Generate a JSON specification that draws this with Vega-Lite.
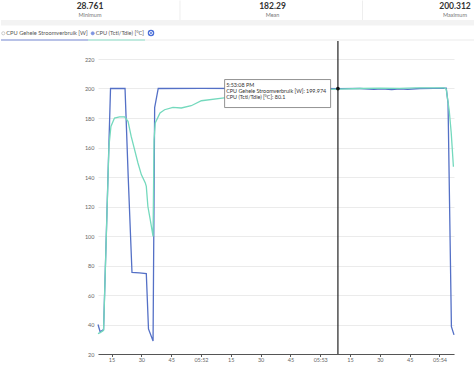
{
  "$schema": "https://vega.github.io/schema/vega-lite/v6.json",
  "padding": 0,
  "background": "white",
  "bounds": "flush",
  "spacing": 0,
  "config": {"font": "Lato", "view": {"stroke": null}},
  "vconcat": [
    {
      "width": 474,
      "height": 59,
      "resolve": {"scale": {"x": "independent"}},
      "layer": [
        {
          "data": {"values": [{"k": 1}]},
          "mark": {"type": "rect", "color": "#f3f3f3", "yOffset": -3, "y2Offset": 2.5},
          "encoding": {
            "y": {"datum": 2, "type": "quantitative", "scale": {"domain": [-0.7059, 6.2353], "reverse": true, "nice": false, "zero": false}, "axis": null},
            "y2": {"datum": 2}
          }
        },
        {
          "data": {"values": [{"k": 1}]},
          "mark": {"type": "rect", "color": "#ebebeb", "yOffset": -0.5, "y2Offset": 0.5},
          "encoding": {
            "y": {"datum": 4, "type": "quantitative", "scale": {"domain": [-0.7059, 6.2353], "reverse": true, "nice": false, "zero": false}, "axis": null},
            "y2": {"datum": 4}
          }
        },
        {
          "data": {"values": [{"col": 1}, {"col": 2}]},
          "mark": {"type": "rule", "color": "#eeeeee", "xOffset": -92.5, "yOffset": -5.5, "y2Offset": -3},
          "encoding": {
            "x": {"field": "col", "type": "ordinal", "scale": {"type": "point", "domain": [0, 1, 2], "padding": 0.2986, "align": 0.8165}, "axis": null},
            "y": {"datum": 0, "type": "quantitative", "scale": {"domain": [-0.7059, 6.2353], "reverse": true, "nice": false, "zero": false}, "axis": null},
            "y2": {"datum": 2}
          }
        },
        {
          "data": {"values": [{"col": 0, "value": "28.761", "label": "Minimum"}, {"col": 1, "value": "182.29", "label": "Mean"}, {"col": 2, "value": "200.312", "label": "Maximum"}]},
          "layer": [
            {
              "mark": {"type": "text", "fontSize": 8.5, "fontWeight": "bold", "color": "#333333", "baseline": "middle"},
              "encoding": {
                "x": {"field": "col", "type": "ordinal", "scale": {"type": "point", "domain": [0, 1, 2], "padding": 0.2986, "align": 0.8165}, "axis": null},
                "y": {"datum": 0, "type": "quantitative", "scale": {"domain": [-0.7059, 6.2353], "reverse": true, "nice": false, "zero": false}, "axis": null},
                "text": {"field": "value"}
              }
            },
            {
              "mark": {"type": "text", "fontSize": 5.5, "color": "#777777", "baseline": "middle"},
              "encoding": {
                "x": {"field": "col", "type": "ordinal", "scale": {"type": "point", "domain": [0, 1, 2], "padding": 0.2986, "align": 0.8165}, "axis": null},
                "y": {"datum": 1, "type": "quantitative", "scale": {"domain": [-0.7059, 6.2353], "reverse": true, "nice": false, "zero": false}, "axis": null},
                "text": {"field": "label"}
              }
            }
          ]
        },
        {
          "data": {"values": [{"i": 0, "item": "power", "label": "CPU Gehele Stroomverbruik [W]"}, {"i": 1, "item": "temp", "label": "CPU (Tctl/Tdie) [°C]"}]},
          "layer": [
            {
              "mark": {"type": "point", "shape": "circle", "filled": true, "size": 10, "strokeWidth": 0.7, "yOffset": 1.8},
              "encoding": {
                "x": {"field": "i", "type": "quantitative", "scale": {"domain": [-0.0257, 5.2763], "nice": false, "zero": false}, "axis": null},
                "y": {"datum": 3, "type": "quantitative", "scale": {"domain": [-0.7059, 6.2353], "reverse": true, "nice": false, "zero": false}, "axis": null},
                "fill": {"field": "item", "type": "nominal", "scale": {"domain": ["power", "temp"], "range": ["#ffffff", "#4b69d6"]}, "legend": null},
                "stroke": {"field": "item", "type": "nominal", "scale": {"domain": ["power", "temp"], "range": ["#999999", "#4b69d6"]}, "legend": null}
              }
            },
            {
              "mark": {"type": "text", "align": "left", "baseline": "middle", "dx": 3, "dy": 1.8, "fontSize": 5.7, "color": "#555555"},
              "encoding": {
                "x": {"field": "i", "type": "quantitative", "scale": {"domain": [-0.0257, 5.2763], "nice": false, "zero": false}, "axis": null},
                "y": {"datum": 3, "type": "quantitative", "scale": {"domain": [-0.7059, 6.2353], "reverse": true, "nice": false, "zero": false}, "axis": null},
                "text": {"field": "label"}
              }
            }
          ]
        },
        {
          "data": {"values": [{"i": 0}]},
          "mark": {"type": "rect", "color": "#7d8fd9", "xOffset": -2.3, "x2Offset": 84.7, "yOffset": -0.6, "y2Offset": 0.6},
          "encoding": {
            "x": {"field": "i", "type": "quantitative", "scale": {"domain": [-0.0257, 5.2763], "nice": false, "zero": false}, "axis": null},
            "x2": {"field": "i"},
            "y": {"datum": 4, "type": "quantitative", "scale": {"domain": [-0.7059, 6.2353], "reverse": true, "nice": false, "zero": false}, "axis": null},
            "y2": {"datum": 4}
          }
        },
        {
          "data": {"values": [{"i": 1}]},
          "mark": {"type": "rect", "color": "#8ddfca", "xOffset": -4.7, "x2Offset": 52.3, "yOffset": -0.6, "y2Offset": 0.6},
          "encoding": {
            "x": {"field": "i", "type": "quantitative", "scale": {"domain": [-0.0257, 5.2763], "nice": false, "zero": false}, "axis": null},
            "x2": {"field": "i"},
            "y": {"datum": 4, "type": "quantitative", "scale": {"domain": [-0.7059, 6.2353], "reverse": true, "nice": false, "zero": false}, "axis": null},
            "y2": {"datum": 4}
          }
        },
        {
          "data": {"values": [{"i": 1}]},
          "layer": [
            {
              "mark": {"type": "point", "shape": "circle", "filled": true, "size": 42, "color": "#4a6fd8", "opacity": 1, "xOffset": 58.3, "yOffset": 1.5},
              "encoding": {
                "x": {"field": "i", "type": "quantitative", "scale": {"domain": [-0.0257, 5.2763], "nice": false, "zero": false}, "axis": null},
                "y": {"datum": 3, "type": "quantitative", "scale": {"domain": [-0.7059, 6.2353], "reverse": true, "nice": false, "zero": false}, "axis": null}
              }
            },
            {
              "mark": {"type": "point", "shape": "circle", "filled": false, "size": 9, "color": "#ffffff", "strokeWidth": 0.9, "opacity": 1, "xOffset": 58.3, "yOffset": 1.5},
              "encoding": {
                "x": {"field": "i", "type": "quantitative", "scale": {"domain": [-0.0257, 5.2763], "nice": false, "zero": false}, "axis": null},
                "y": {"datum": 3, "type": "quantitative", "scale": {"domain": [-0.7059, 6.2353], "reverse": true, "nice": false, "zero": false}, "axis": null}
              }
            }
          ]
        }
      ]
    },
    {
      "spacing": 0,
      "bounds": "flush",
      "hconcat": [
        {
          "width": 96.7,
          "height": 295,
          "data": {"values": [{"k": 1}]},
          "mark": {"type": "text", "opacity": 0},
          "encoding": {"text": {"value": ""}}
        },
        {
          "width": 356,
          "height": 295,
          "layer": [
            {
              "data": {"values": [
                {"series": "power", "seconds_after_17_51": 8.2, "value": 40},
                {"series": "power", "seconds_after_17_51": 9.3, "value": 35},
                {"series": "power", "seconds_after_17_51": 11.0, "value": 36.5},
                {"series": "power", "seconds_after_17_51": 14.5, "value": 200},
                {"series": "power", "seconds_after_17_51": 21.8, "value": 200},
                {"series": "power", "seconds_after_17_51": 23.4, "value": 140},
                {"series": "power", "seconds_after_17_51": 25.3, "value": 75.3},
                {"series": "power", "seconds_after_17_51": 29.0, "value": 75},
                {"series": "power", "seconds_after_17_51": 32.5, "value": 74.5},
                {"series": "power", "seconds_after_17_51": 33.6, "value": 37},
                {"series": "power", "seconds_after_17_51": 35.9, "value": 28.8},
                {"series": "power", "seconds_after_17_51": 36.7, "value": 187},
                {"series": "power", "seconds_after_17_51": 38.5, "value": 200},
                {"series": "power", "seconds_after_17_51": 60, "value": 200.1},
                {"series": "power", "seconds_after_17_51": 90, "value": 200},
                {"series": "power", "seconds_after_17_51": 120, "value": 200.1},
                {"series": "power", "seconds_after_17_51": 128.9, "value": 199.974},
                {"series": "power", "seconds_after_17_51": 140, "value": 200},
                {"series": "power", "seconds_after_17_51": 147, "value": 199.4},
                {"series": "power", "seconds_after_17_51": 151, "value": 199.8},
                {"series": "power", "seconds_after_17_51": 156, "value": 199.2},
                {"series": "power", "seconds_after_17_51": 160, "value": 199.7},
                {"series": "power", "seconds_after_17_51": 164, "value": 199.4},
                {"series": "power", "seconds_after_17_51": 170, "value": 200},
                {"series": "power", "seconds_after_17_51": 177, "value": 200.1},
                {"series": "power", "seconds_after_17_51": 183.4, "value": 200.3},
                {"series": "power", "seconds_after_17_51": 184.3, "value": 190},
                {"series": "power", "seconds_after_17_51": 186.0, "value": 38.5},
                {"series": "power", "seconds_after_17_51": 187.3, "value": 33},
                {"series": "temp", "seconds_after_17_51": 8.2, "value": 33.8},
                {"series": "temp", "seconds_after_17_51": 9.3, "value": 34.5},
                {"series": "temp", "seconds_after_17_51": 11.0, "value": 36},
                {"series": "temp", "seconds_after_17_51": 13.7, "value": 160.7},
                {"series": "temp", "seconds_after_17_51": 14.7, "value": 174.3},
                {"series": "temp", "seconds_after_17_51": 16.5, "value": 180},
                {"series": "temp", "seconds_after_17_51": 19.0, "value": 180.7},
                {"series": "temp", "seconds_after_17_51": 21.6, "value": 180.7},
                {"series": "temp", "seconds_after_17_51": 23.3, "value": 177.7},
                {"series": "temp", "seconds_after_17_51": 24.9, "value": 167.5},
                {"series": "temp", "seconds_after_17_51": 26.6, "value": 158.5},
                {"series": "temp", "seconds_after_17_51": 28.3, "value": 149.5},
                {"series": "temp", "seconds_after_17_51": 30.0, "value": 141.6},
                {"series": "temp", "seconds_after_17_51": 32.0, "value": 136},
                {"series": "temp", "seconds_after_17_51": 32.5, "value": 133.6},
                {"series": "temp", "seconds_after_17_51": 33.3, "value": 120},
                {"series": "temp", "seconds_after_17_51": 34.5, "value": 111},
                {"series": "temp", "seconds_after_17_51": 35.9, "value": 99.7},
                {"series": "temp", "seconds_after_17_51": 36.4, "value": 165.3},
                {"series": "temp", "seconds_after_17_51": 37.0, "value": 176.6},
                {"series": "temp", "seconds_after_17_51": 39.4, "value": 183.4},
                {"series": "temp", "seconds_after_17_51": 41.7, "value": 185.6},
                {"series": "temp", "seconds_after_17_51": 45.9, "value": 187.2},
                {"series": "temp", "seconds_after_17_51": 50.1, "value": 186.8},
                {"series": "temp", "seconds_after_17_51": 55.1, "value": 188.3},
                {"series": "temp", "seconds_after_17_51": 60.2, "value": 191.7},
                {"series": "temp", "seconds_after_17_51": 71.7, "value": 193.6},
                {"series": "temp", "seconds_after_17_51": 80, "value": 195},
                {"series": "temp", "seconds_after_17_51": 90, "value": 196.3},
                {"series": "temp", "seconds_after_17_51": 100, "value": 197.5},
                {"series": "temp", "seconds_after_17_51": 110, "value": 198.5},
                {"series": "temp", "seconds_after_17_51": 120, "value": 199.2},
                {"series": "temp", "seconds_after_17_51": 128.9, "value": 199.6},
                {"series": "temp", "seconds_after_17_51": 140, "value": 200},
                {"series": "temp", "seconds_after_17_51": 150, "value": 200.2},
                {"series": "temp", "seconds_after_17_51": 160, "value": 200.1},
                {"series": "temp", "seconds_after_17_51": 168, "value": 200.4},
                {"series": "temp", "seconds_after_17_51": 182.4, "value": 200.4},
                {"series": "temp", "seconds_after_17_51": 183.4, "value": 199.5},
                {"series": "temp", "seconds_after_17_51": 184.9, "value": 185},
                {"series": "temp", "seconds_after_17_51": 185.9, "value": 170},
                {"series": "temp", "seconds_after_17_51": 187.0, "value": 147}
              ]},
              "mark": {"type": "line", "strokeWidth": 1.3},
              "encoding": {
                "x": {
                  "field": "seconds_after_17_51", "type": "quantitative",
                  "scale": {"domain": [8.2, 187.3], "nice": false, "zero": false},
                  "axis": {
                    "title": null,
                    "grid": false,
                    "values": [15, 30, 45, 60, 75, 90, 105, 120, 135, 150, 165, 180],
                    "tickCount": 40,
                    "labelExpr": "datum.value % 60 === 0 ? '05:' + format(51 + datum.value / 60, '02d') : format(datum.value % 60, '02d')",
                    "labelOverlap": false,
                    "domainColor": "#555555",
                    "domainWidth": 1,
                    "tickColor": "#555555",
                    "tickSize": 2.5,
                    "labelFontSize": 5.5,
                    "labelColor": "#666666",
                    "labelPadding": 0.5,
                    "labelFlush": false
                  }
                },
                "y": {
                  "field": "value", "type": "quantitative",
                  "scale": {"domain": [20, 220], "nice": false, "zero": false},
                  "axis": {
                    "title": null,
                    "values": [20, 40, 60, 80, 100, 120, 140, 160, 180, 200, 220],
                    "tickCount": 40,
                    "labelOverlap": false,
                    "grid": true,
                    "gridColor": "#ebebeb",
                    "domain": false,
                    "ticks": false,
                    "labelFontSize": 5.5,
                    "labelColor": "#666666",
                    "labelPadding": 4
                  }
                },
                "color": {"field": "series", "type": "nominal", "scale": {"domain": ["power", "temp"], "range": ["#5470c6", "#74d9bd"]}, "legend": null}
              }
            },
            {
              "data": {"values": [{"seconds_after_17_51": 128.9, "power": 199.974, "temp": 80.1, "tip": ["5:53:08 PM", "CPU Gehele Stroomverbruik [W]: 199.974", "CPU (Tctl/Tdie) [°C]: 80.1"]}]},
              "layer": [
                {
                  "mark": {"type": "rule", "color": "#222222", "strokeWidth": 1.2, "y2Offset": -18},
                  "encoding": {
                    "x": {"field": "seconds_after_17_51", "type": "quantitative"},
                    "y": {"datum": 20},
                    "y2": {"datum": 220}
                  }
                },
                {
                  "mark": {"type": "rect", "fill": "#ffffff", "stroke": "#777777", "strokeWidth": 0.8, "xOffset": -113.3, "x2Offset": -7.3, "yOffset": -9, "y2Offset": 19},
                  "encoding": {
                    "x": {"field": "seconds_after_17_51", "type": "quantitative"},
                    "x2": {"field": "seconds_after_17_51"},
                    "y": {"field": "power", "type": "quantitative"},
                    "y2": {"field": "power"}
                  }
                },
                {
                  "mark": {"type": "text", "align": "left", "baseline": "top", "dx": -111.7, "dy": -6, "fontSize": 5.4, "lineHeight": 6.3, "color": "#333333"},
                  "encoding": {
                    "x": {"field": "seconds_after_17_51", "type": "quantitative"},
                    "y": {"field": "power", "type": "quantitative"},
                    "text": {"field": "tip"}
                  }
                },
                {
                  "mark": {"type": "point", "shape": "circle", "filled": true, "size": 14, "color": "#111111", "opacity": 1},
                  "encoding": {
                    "x": {"field": "seconds_after_17_51", "type": "quantitative"},
                    "y": {"field": "power", "type": "quantitative"}
                  }
                }
              ]
            }
          ]
        }
      ]
    }
  ]
}
